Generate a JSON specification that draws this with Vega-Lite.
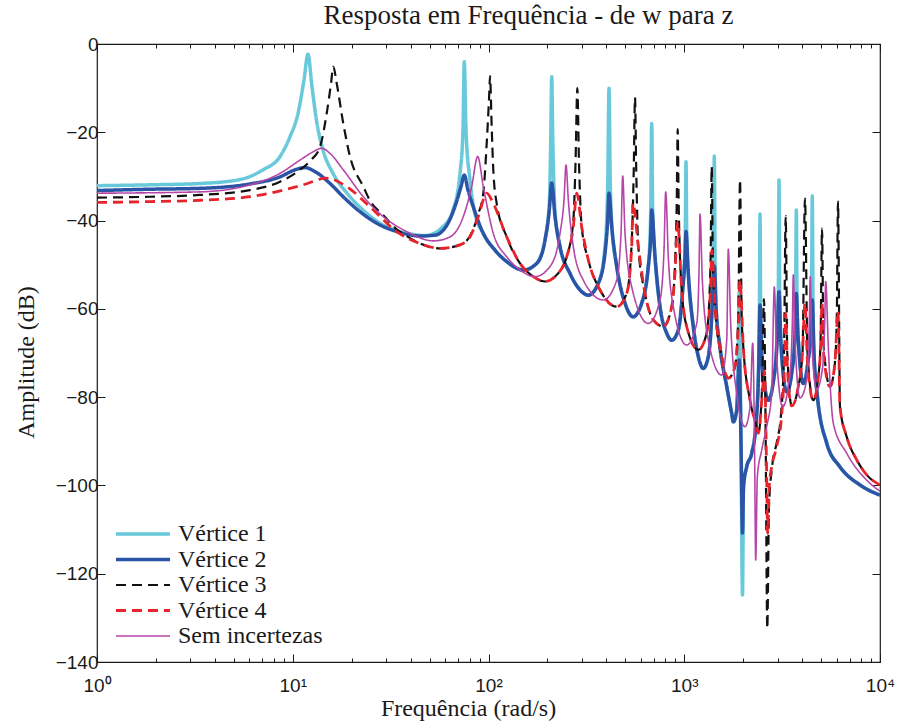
{
"$schema": "https://vega.github.io/schema/vega-lite/v6.json",
"width": 783, "height": 618,
"autosize": {"type": "none"},
"padding": {"left": 97, "top": 44, "right": 21, "bottom": 61},
"background": "white",
"title": {"text": "Resposta em Frequência - de w para z", "font": "Liberation Serif", "fontSize": 27, "fontWeight": "normal", "color": "#1a1a1a", "anchor": "middle", "dx": 40, "offset": -16, "baseline": "alphabetic"},
"config": {"view": {"stroke": "#1a1a1a", "strokeWidth": 1.2}, "axis": {"grid": false, "domain": false, "tickColor": "#1a1a1a", "labelColor": "#1a1a1a", "titleColor": "#1a1a1a"}},
"data": {"values": [
{"serie":"Vértice 1","f":1,"db":-32.1},{"serie":"Vértice 1","f":1.866,"db":-31.9},{"serie":"Vértice 1","f":3.359,"db":-31.6},{"serie":"Vértice 1","f":5.377,"db":-30.7},{"serie":"Vértice 1","f":7.047,"db":-28.5},{"serie":"Vértice 1","f":8.608,"db":-25.5},{"serie":"Vértice 1","f":9.682,"db":-21.0},{"serie":"Vértice 1","f":10.64,"db":-15.7},{"serie":"Vértice 1","f":11.41,"db":-8.2},{"serie":"Vértice 1","f":11.96,"db":-2.3},{"serie":"Vértice 1","f":12.54,"db":-9.7},{"serie":"Vértice 1","f":13.30,"db":-18.0},{"serie":"Vértice 1","f":14.27,"db":-24.0},{"serie":"Vértice 1","f":16.06,"db":-29.3},{"serie":"Vértice 1","f":18.93,"db":-33.8},{"serie":"Vértice 1","f":22.85,"db":-37.6},{"serie":"Vértice 1","f":28.91,"db":-41.0},{"serie":"Vértice 1","f":39.72,"db":-43.0},{"serie":"Vértice 1","f":47.37,"db":-43.4},{"serie":"Vértice 1","f":58.55,"db":-41.4},{"serie":"Vértice 1","f":65.86,"db":-37.6},{"serie":"Vértice 1","f":71.51,"db":-29.3},{"serie":"Vértice 1","f":74.08,"db":-19.5},{"serie":"Vértice 1","f":75.22,"db":-4.0},{"serie":"Vértice 1","f":76.74,"db":-19.5},{"serie":"Vértice 1","f":80.42,"db":-30.8},{"serie":"Vértice 1","f":85.31,"db":-38.5},{"serie":"Vértice 1","f":94.06,"db":-42.9},{"serie":"Vértice 1","f":107.9,"db":-46.7},{"serie":"Vértice 1","f":123.9,"db":-49.3},{"serie":"Vértice 1","f":150.6,"db":-51.2},{"serie":"Vértice 1","f":176.3,"db":-49.7},{"serie":"Vértice 1","f":194.4,"db":-44.4},{"serie":"Vértice 1","f":204.5,"db":-36},{"serie":"Vértice 1","f":207.9,"db":-22},{"serie":"Vértice 1","f":210.3,"db":-7.4},{"serie":"Vértice 1","f":213.1,"db":-22},{"serie":"Vértice 1","f":218.7,"db":-38},{"serie":"Vértice 1","f":231.9,"db":-45.9},{"serie":"Vértice 1","f":260.9,"db":-52.0},{"serie":"Vértice 1","f":293.4,"db":-55.7},{"serie":"Vértice 1","f":323.4,"db":-56.9},{"serie":"Vértice 1","f":363.9,"db":-54.2},{"serie":"Vértice 1","f":393.7,"db":-46},{"serie":"Vértice 1","f":406.4,"db":-32},{"serie":"Vértice 1","f":412.7,"db":-10.0},{"serie":"Vértice 1","f":419.0,"db":-32},{"serie":"Vértice 1","f":427.5,"db":-41.4},{"serie":"Vértice 1","f":451.8,"db":-50.4},{"serie":"Vértice 1","f":498.2,"db":-58.7},{"serie":"Vértice 1","f":547.2,"db":-61.8},{"serie":"Vértice 1","f":606.3,"db":-58.7},{"serie":"Vértice 1","f":655.2,"db":-50.4},{"serie":"Vértice 1","f":673.9,"db":-38},{"serie":"Vértice 1","f":681.9,"db":-18.0},{"serie":"Vértice 1","f":690.0,"db":-38},{"serie":"Vértice 1","f":709.0,"db":-48.2},{"serie":"Vértice 1","f":751.9,"db":-59.5},{"serie":"Vértice 1","f":813.5,"db":-65.5},{"serie":"Vértice 1","f":862.8,"db":-67.1},{"serie":"Vértice 1","f":932.4,"db":-64.8},{"serie":"Vértice 1","f":981.9,"db":-55.7},{"serie":"Vértice 1","f":1011,"db":-44},{"serie":"Vértice 1","f":1021,"db":-26.7},{"serie":"Vértice 1","f":1030,"db":-44},{"serie":"Vértice 1","f":1049,"db":-52.0},{"serie":"Vértice 1","f":1112,"db":-64.0},{"serie":"Vértice 1","f":1180,"db":-70.8},{"serie":"Vértice 1","f":1251,"db":-73.5},{"serie":"Vértice 1","f":1327,"db":-70.8},{"serie":"Vértice 1","f":1381,"db":-61.8},{"serie":"Vértice 1","f":1411,"db":-48},{"serie":"Vértice 1","f":1424,"db":-25.4},{"serie":"Vértice 1","f":1437,"db":-48},{"serie":"Vértice 1","f":1453,"db":-59.5},{"serie":"Vértice 1","f":1522,"db":-68.6},{"serie":"Vértice 1","f":1648,"db":-77.6},{"serie":"Vértice 1","f":1748,"db":-83.7},{"serie":"Vértice 1","f":1781,"db":-85.6},{"serie":"Vértice 1","f":1853,"db":-82.9},{"serie":"Vértice 1","f":1888,"db":-70},{"serie":"Vértice 1","f":1910,"db":-56.1},{"serie":"Vértice 1","f":1949,"db":-90},{"serie":"Vértice 1","f":1984,"db":-124.8},{"serie":"Vértice 1","f":2008,"db":-100.3},{"serie":"Vértice 1","f":2084,"db":-95.8},{"serie":"Vértice 1","f":2211,"db":-92.7},{"serie":"Vértice 1","f":2326,"db":-86},{"serie":"Vértice 1","f":2416,"db":-65},{"serie":"Vértice 1","f":2438,"db":-38.5},{"serie":"Vértice 1","f":2461,"db":-65},{"serie":"Vértice 1","f":2496,"db":-72},{"serie":"Vértice 1","f":2585,"db":-78},{"serie":"Vértice 1","f":2687,"db":-80.7},{"serie":"Vértice 1","f":2840,"db":-77},{"serie":"Vértice 1","f":3019,"db":-60},{"serie":"Vértice 1","f":3048,"db":-30.8},{"serie":"Vértice 1","f":3077,"db":-60},{"serie":"Vértice 1","f":3120,"db":-68},{"serie":"Vértice 1","f":3337,"db":-78.8},{"serie":"Vértice 1","f":3553,"db":-74},{"serie":"Vértice 1","f":3702,"db":-60},{"serie":"Vértice 1","f":3737,"db":-37.6},{"serie":"Vértice 1","f":3772,"db":-60},{"serie":"Vértice 1","f":3812,"db":-66},{"serie":"Vértice 1","f":4056,"db":-76.9},{"serie":"Vértice 1","f":4286,"db":-72},{"serie":"Vértice 1","f":4466,"db":-60},{"serie":"Vértice 1","f":4508,"db":-34.4},{"serie":"Vértice 1","f":4551,"db":-60},{"serie":"Vértice 1","f":4599,"db":-70},{"serie":"Vértice 1","f":4767,"db":-79},{"serie":"Vértice 1","f":5342,"db":-90.4},{"serie":"Vértice 1","f":6246,"db":-95.8},{"serie":"Vértice 1","f":7905,"db":-99.9},{"serie":"Vértice 1","f":10000,"db":-102.2},
{"serie":"Vértice 2","f":1,"db":-33.2},{"serie":"Vértice 2","f":1.866,"db":-32.9},{"serie":"Vértice 2","f":3.359,"db":-32.7},{"serie":"Vértice 2","f":6.048,"db":-31.7},{"serie":"Vértice 2","f":8.608,"db":-30.1},{"serie":"Vértice 2","f":10.27,"db":-28.5},{"serie":"Vértice 2","f":11.55,"db":-28.0},{"serie":"Vértice 2","f":12.99,"db":-28.9},{"serie":"Vértice 2","f":15.50,"db":-31.6},{"serie":"Vértice 2","f":18.49,"db":-35.0},{"serie":"Vértice 2","f":22.06,"db":-38.0},{"serie":"Vértice 2","f":27.91,"db":-41.0},{"serie":"Vértice 2","f":35.32,"db":-42.7},{"serie":"Vértice 2","f":44.67,"db":-43.5},{"serie":"Vértice 2","f":53.29,"db":-43.3},{"serie":"Vértice 2","f":62.10,"db":-40.6},{"serie":"Vértice 2","f":68.23,"db":-36.1},{"serie":"Vértice 2","f":72.36,"db":-32.3},{"serie":"Vértice 2","f":75.22,"db":-29.7},{"serie":"Vértice 2","f":78.55,"db":-33.1},{"serie":"Vértice 2","f":83.60,"db":-36.9},{"serie":"Vértice 2","f":94.06,"db":-42.9},{"serie":"Vértice 2","f":107.9,"db":-46.7},{"serie":"Vértice 2","f":123.9,"db":-49.3},{"serie":"Vértice 2","f":150.6,"db":-51.2},{"serie":"Vértice 2","f":176.3,"db":-49.7},{"serie":"Vértice 2","f":194.4,"db":-44.4},{"serie":"Vértice 2","f":204.5,"db":-37.6},{"serie":"Vértice 2","f":210.3,"db":-31.5},{"serie":"Vértice 2","f":218.7,"db":-39.1},{"serie":"Vértice 2","f":231.9,"db":-45.9},{"serie":"Vértice 2","f":260.9,"db":-52.0},{"serie":"Vértice 2","f":293.4,"db":-55.7},{"serie":"Vértice 2","f":323.4,"db":-56.9},{"serie":"Vértice 2","f":363.9,"db":-54.2},{"serie":"Vértice 2","f":393.7,"db":-47.4},{"serie":"Vértice 2","f":406.4,"db":-39.9},{"serie":"Vértice 2","f":412.7,"db":-33.8},{"serie":"Vértice 2","f":426.0,"db":-41.4},{"serie":"Vértice 2","f":451.8,"db":-50.4},{"serie":"Vértice 2","f":498.2,"db":-58.7},{"serie":"Vértice 2","f":547.2,"db":-61.8},{"serie":"Vértice 2","f":606.3,"db":-58.7},{"serie":"Vértice 2","f":655.2,"db":-50.4},{"serie":"Vértice 2","f":673.9,"db":-43.7},{"serie":"Vértice 2","f":681.9,"db":-37.6},{"serie":"Vértice 2","f":709.0,"db":-48.2},{"serie":"Vértice 2","f":751.9,"db":-59.5},{"serie":"Vértice 2","f":813.5,"db":-65.5},{"serie":"Vértice 2","f":862.8,"db":-67.1},{"serie":"Vértice 2","f":932.4,"db":-64.8},{"serie":"Vértice 2","f":981.9,"db":-55.7},{"serie":"Vértice 2","f":1009,"db":-48.2},{"serie":"Vértice 2","f":1021,"db":-42.5},{"serie":"Vértice 2","f":1049,"db":-52.0},{"serie":"Vértice 2","f":1112,"db":-64.0},{"serie":"Vértice 2","f":1180,"db":-70.8},{"serie":"Vértice 2","f":1251,"db":-73.5},{"serie":"Vértice 2","f":1327,"db":-70.8},{"serie":"Vértice 2","f":1381,"db":-61.8},{"serie":"Vértice 2","f":1408,"db":-53.5},{"serie":"Vértice 2","f":1424,"db":-50.3},{"serie":"Vértice 2","f":1453,"db":-59.5},{"serie":"Vértice 2","f":1522,"db":-68.6},{"serie":"Vértice 2","f":1648,"db":-77.6},{"serie":"Vértice 2","f":1748,"db":-83.7},{"serie":"Vértice 2","f":1781,"db":-85.6},{"serie":"Vértice 2","f":1853,"db":-82.9},{"serie":"Vértice 2","f":1888,"db":-75.4},{"serie":"Vértice 2","f":1910,"db":-71.6},{"serie":"Vértice 2","f":1949,"db":-90},{"serie":"Vértice 2","f":1984,"db":-110.8},{"serie":"Vértice 2","f":2008,"db":-100.3},{"serie":"Vértice 2","f":2084,"db":-95.8},{"serie":"Vértice 2","f":2211,"db":-92.7},{"serie":"Vértice 2","f":2326,"db":-86},{"serie":"Vértice 2","f":2396,"db":-75},{"serie":"Vértice 2","f":2438,"db":-59.1},{"serie":"Vértice 2","f":2496,"db":-72},{"serie":"Vértice 2","f":2585,"db":-78},{"serie":"Vértice 2","f":2687,"db":-80.7},{"serie":"Vértice 2","f":2840,"db":-77},{"serie":"Vértice 2","f":2977,"db":-68},{"serie":"Vértice 2","f":3048,"db":-56.1},{"serie":"Vértice 2","f":3120,"db":-68},{"serie":"Vértice 2","f":3337,"db":-78.8},{"serie":"Vértice 2","f":3553,"db":-74},{"serie":"Vértice 2","f":3680,"db":-66},{"serie":"Vértice 2","f":3737,"db":-56.5},{"serie":"Vértice 2","f":3812,"db":-66},{"serie":"Vértice 2","f":4056,"db":-76.9},{"serie":"Vértice 2","f":4286,"db":-72},{"serie":"Vértice 2","f":4440,"db":-65},{"serie":"Vértice 2","f":4508,"db":-58},{"serie":"Vértice 2","f":4599,"db":-70},{"serie":"Vértice 2","f":4767,"db":-79},{"serie":"Vértice 2","f":5342,"db":-90.4},{"serie":"Vértice 2","f":6246,"db":-95.8},{"serie":"Vértice 2","f":7905,"db":-99.9},{"serie":"Vértice 2","f":10000,"db":-102.2},
{"serie":"Vértice 3","f":1,"db":-34.8},{"serie":"Vértice 3","f":1.866,"db":-34.6},{"serie":"Vértice 3","f":3.359,"db":-34.2},{"serie":"Vértice 3","f":6.048,"db":-33.1},{"serie":"Vértice 3","f":8.608,"db":-31.2},{"serie":"Vértice 3","f":10.89,"db":-28.5},{"serie":"Vértice 3","f":12.25,"db":-26.5},{"serie":"Vértice 3","f":13.78,"db":-23.3},{"serie":"Vértice 3","f":14.91,"db":-15.7},{"serie":"Vértice 3","f":15.68,"db":-9.0},{"serie":"Vértice 3","f":16.11,"db":-5.1},{"serie":"Vértice 3","f":16.77,"db":-8.9},{"serie":"Vértice 3","f":18.12,"db":-18.0},{"serie":"Vértice 3","f":19.61,"db":-25.5},{"serie":"Vértice 3","f":22.93,"db":-32.3},{"serie":"Vértice 3","f":24.81,"db":-35.5},{"serie":"Vértice 3","f":29.01,"db":-38.8},{"serie":"Vértice 3","f":33.97,"db":-42.0},{"serie":"Vértice 3","f":36.71,"db":-43.0},{"serie":"Vértice 3","f":44.67,"db":-45.2},{"serie":"Vértice 3","f":56.52,"db":-46.3},{"serie":"Vértice 3","f":71.51,"db":-45.5},{"serie":"Vértice 3","f":80.42,"db":-43.5},{"serie":"Vértice 3","f":88.69,"db":-38.5},{"serie":"Vértice 3","f":94.06,"db":-33.8},{"serie":"Vértice 3","f":97.91,"db":-22.5},{"serie":"Vértice 3","f":100.9,"db":-11.2},{"serie":"Vértice 3","f":101.8,"db":-7.25},{"serie":"Vértice 3","f":103.8,"db":-18.7},{"serie":"Vértice 3","f":105.8,"db":-28.5},{"serie":"Vértice 3","f":110.1,"db":-36.1},{"serie":"Vértice 3","f":123.9,"db":-43.7},{"serie":"Vértice 3","f":144.9,"db":-49.7},{"serie":"Vértice 3","f":169.4,"db":-52.7},{"serie":"Vértice 3","f":194.4,"db":-53.8},{"serie":"Vértice 3","f":223.1,"db":-52.3},{"serie":"Vértice 3","f":250.9,"db":-48.2},{"serie":"Vértice 3","f":271.2,"db":-40},{"serie":"Vértice 3","f":278.3,"db":-27},{"serie":"Vértice 3","f":284.3,"db":-10.0},{"serie":"Vértice 3","f":290.0,"db":-27},{"serie":"Vértice 3","f":299.3,"db":-41.4},{"serie":"Vértice 3","f":323.4,"db":-48.9},{"serie":"Vértice 3","f":371.2,"db":-55.7},{"serie":"Vértice 3","f":451.8,"db":-59.5},{"serie":"Vértice 3","f":508.2,"db":-56.5},{"serie":"Vértice 3","f":538.9,"db":-45},{"serie":"Vértice 3","f":552.4,"db":-28},{"serie":"Vértice 3","f":560.3,"db":-12.1},{"serie":"Vértice 3","f":568.2,"db":-28},{"serie":"Vértice 3","f":582.5,"db":-45.9},{"serie":"Vértice 3","f":630.3,"db":-56.5},{"serie":"Vértice 3","f":694.9,"db":-62.5},{"serie":"Vértice 3","f":781.6,"db":-64.0},{"serie":"Vértice 3","f":862.8,"db":-59.5},{"serie":"Vértice 3","f":896.9,"db":-50},{"serie":"Vértice 3","f":916.1,"db":-35},{"serie":"Vértice 3","f":925.8,"db":-19.3},{"serie":"Vértice 3","f":935.7,"db":-35},{"serie":"Vértice 3","f":970.4,"db":-55.7},{"serie":"Vértice 3","f":1029,"db":-64.0},{"serie":"Vértice 3","f":1180,"db":-69.3},{"serie":"Vértice 3","f":1302,"db":-65.5},{"serie":"Vértice 3","f":1362,"db":-50},{"serie":"Vértice 3","f":1381,"db":-27.8},{"serie":"Vértice 3","f":1401,"db":-50},{"serie":"Vértice 3","f":1436,"db":-59.5},{"serie":"Vértice 3","f":1553,"db":-70.8},{"serie":"Vértice 3","f":1679,"db":-75.7},{"serie":"Vértice 3","f":1816,"db":-73.1},{"serie":"Vértice 3","f":1888,"db":-62},{"serie":"Vértice 3","f":1927,"db":-30.8},{"serie":"Vértice 3","f":1966,"db":-62},{"serie":"Vértice 3","f":2003,"db":-68.6},{"serie":"Vértice 3","f":2168,"db":-80.7},{"serie":"Vértice 3","f":2345,"db":-86.7},{"serie":"Vértice 3","f":2390,"db":-88.2},{"serie":"Vértice 3","f":2496,"db":-78},{"serie":"Vértice 3","f":2555,"db":-57.8},{"serie":"Vértice 3","f":2601,"db":-85},{"serie":"Vértice 3","f":2656,"db":-132.4},{"serie":"Vértice 3","f":2709,"db":-105},{"serie":"Vértice 3","f":2807,"db":-96},{"serie":"Vértice 3","f":2977,"db":-90},{"serie":"Vértice 3","f":3120,"db":-84},{"serie":"Vértice 3","f":3232,"db":-70},{"serie":"Vértice 3","f":3298,"db":-39.0},{"serie":"Vértice 3","f":3360,"db":-70},{"serie":"Vértice 3","f":3540,"db":-82},{"serie":"Vértice 3","f":3812,"db":-78},{"serie":"Vértice 3","f":4018,"db":-70},{"serie":"Vértice 3","f":4138,"db":-35.0},{"serie":"Vértice 3","f":4261,"db":-70},{"serie":"Vértice 3","f":4562,"db":-80.7},{"serie":"Vértice 3","f":4823,"db":-76},{"serie":"Vértice 3","f":4967,"db":-68},{"serie":"Vértice 3","f":5055,"db":-41.8},{"serie":"Vértice 3","f":5145,"db":-68},{"serie":"Vértice 3","f":5553,"db":-77.6},{"serie":"Vértice 3","f":5890,"db":-72},{"serie":"Vértice 3","f":6016,"db":-62},{"serie":"Vértice 3","f":6101,"db":-35.7},{"serie":"Vértice 3","f":6246,"db":-82.2},{"serie":"Vértice 3","f":6760,"db":-89},{"serie":"Vértice 3","f":7603,"db":-94.2},{"serie":"Vértice 3","f":8553,"db":-97.6},{"serie":"Vértice 3","f":10000,"db":-99.9},
{"serie":"Vértice 4","f":1,"db":-35.9},{"serie":"Vértice 4","f":1.866,"db":-35.7},{"serie":"Vértice 4","f":3.359,"db":-35.4},{"serie":"Vértice 4","f":6.048,"db":-34.6},{"serie":"Vértice 4","f":7.652,"db":-33.8},{"serie":"Vértice 4","f":11.32,"db":-31.9},{"serie":"Vértice 4","f":14.91,"db":-30.4},{"serie":"Vértice 4","f":18.86,"db":-32.3},{"serie":"Vértice 4","f":24.81,"db":-36.9},{"serie":"Vértice 4","f":33.97,"db":-42.5},{"serie":"Vértice 4","f":44.67,"db":-45.2},{"serie":"Vértice 4","f":56.52,"db":-46.3},{"serie":"Vértice 4","f":71.51,"db":-45.5},{"serie":"Vértice 4","f":80.42,"db":-43.7},{"serie":"Vértice 4","f":88.69,"db":-39.1},{"serie":"Vértice 4","f":97.91,"db":-33.8},{"serie":"Vértice 4","f":105.8,"db":-36.1},{"serie":"Vértice 4","f":123.9,"db":-43.7},{"serie":"Vértice 4","f":144.9,"db":-49.7},{"serie":"Vértice 4","f":169.4,"db":-52.7},{"serie":"Vértice 4","f":194.4,"db":-53.8},{"serie":"Vértice 4","f":223.1,"db":-52.3},{"serie":"Vértice 4","f":250.9,"db":-48.2},{"serie":"Vértice 4","f":271.2,"db":-41.4},{"serie":"Vértice 4","f":282.3,"db":-33.8},{"serie":"Vértice 4","f":299.3,"db":-41.4},{"serie":"Vértice 4","f":323.4,"db":-48.9},{"serie":"Vértice 4","f":371.2,"db":-55.7},{"serie":"Vértice 4","f":451.8,"db":-59.5},{"serie":"Vértice 4","f":508.2,"db":-56.5},{"serie":"Vértice 4","f":538.9,"db":-45.9},{"serie":"Vértice 4","f":547.2,"db":-36.0},{"serie":"Vértice 4","f":582.5,"db":-45.9},{"serie":"Vértice 4","f":630.3,"db":-56.5},{"serie":"Vértice 4","f":694.9,"db":-62.5},{"serie":"Vértice 4","f":781.6,"db":-64.0},{"serie":"Vértice 4","f":862.8,"db":-59.5},{"serie":"Vértice 4","f":896.9,"db":-51.9},{"serie":"Vértice 4","f":925.8,"db":-40.3},{"serie":"Vértice 4","f":970.4,"db":-55.7},{"serie":"Vértice 4","f":1029,"db":-64.0},{"serie":"Vértice 4","f":1180,"db":-69.3},{"serie":"Vértice 4","f":1302,"db":-65.5},{"serie":"Vértice 4","f":1365,"db":-54.2},{"serie":"Vértice 4","f":1381,"db":-46.7},{"serie":"Vértice 4","f":1436,"db":-59.5},{"serie":"Vértice 4","f":1553,"db":-70.8},{"serie":"Vértice 4","f":1679,"db":-75.7},{"serie":"Vértice 4","f":1816,"db":-73.1},{"serie":"Vértice 4","f":1888,"db":-64.0},{"serie":"Vértice 4","f":1927,"db":-53.5},{"serie":"Vértice 4","f":2003,"db":-68.6},{"serie":"Vértice 4","f":2168,"db":-80.7},{"serie":"Vértice 4","f":2345,"db":-86.7},{"serie":"Vértice 4","f":2390,"db":-88.2},{"serie":"Vértice 4","f":2496,"db":-80},{"serie":"Vértice 4","f":2570,"db":-74},{"serie":"Vértice 4","f":2631,"db":-95},{"serie":"Vértice 4","f":2668,"db":-110.8},{"serie":"Vértice 4","f":2719,"db":-100},{"serie":"Vértice 4","f":2797,"db":-95.8},{"serie":"Vértice 4","f":2966,"db":-91.2},{"serie":"Vértice 4","f":3146,"db":-84},{"serie":"Vértice 4","f":3251,"db":-72},{"serie":"Vértice 4","f":3298,"db":-61},{"serie":"Vértice 4","f":3368,"db":-74},{"serie":"Vértice 4","f":3540,"db":-82},{"serie":"Vértice 4","f":3812,"db":-78},{"serie":"Vértice 4","f":4018,"db":-70},{"serie":"Vértice 4","f":4138,"db":-58.7},{"serie":"Vértice 4","f":4261,"db":-72},{"serie":"Vértice 4","f":4562,"db":-80.7},{"serie":"Vértice 4","f":4823,"db":-76},{"serie":"Vértice 4","f":4967,"db":-69},{"serie":"Vértice 4","f":5055,"db":-58.7},{"serie":"Vértice 4","f":5145,"db":-70},{"serie":"Vértice 4","f":5553,"db":-77.6},{"serie":"Vértice 4","f":5890,"db":-72},{"serie":"Vértice 4","f":6101,"db":-60.6},{"serie":"Vértice 4","f":6246,"db":-82.2},{"serie":"Vértice 4","f":6760,"db":-89},{"serie":"Vértice 4","f":7603,"db":-94.2},{"serie":"Vértice 4","f":8553,"db":-97.6},{"serie":"Vértice 4","f":10000,"db":-99.9},
{"serie":"Sem incertezas","f":1,"db":-33.8},{"serie":"Sem incertezas","f":3.359,"db":-33.5},{"serie":"Sem incertezas","f":6.048,"db":-31.9},{"serie":"Sem incertezas","f":8.608,"db":-29.3},{"serie":"Sem incertezas","f":10.89,"db":-26.3},{"serie":"Sem incertezas","f":12.74,"db":-24.4},{"serie":"Sem incertezas","f":14.06,"db":-23.6},{"serie":"Sem incertezas","f":15.50,"db":-24.8},{"serie":"Sem incertezas","f":18.12,"db":-28.5},{"serie":"Sem incertezas","f":22.93,"db":-34.6},{"serie":"Sem incertezas","f":29.01,"db":-39.1},{"serie":"Sem incertezas","f":38.21,"db":-42.5},{"serie":"Sem incertezas","f":52.24,"db":-44.6},{"serie":"Sem incertezas","f":63.58,"db":-43.7},{"serie":"Sem incertezas","f":74.34,"db":-39.1},{"serie":"Sem incertezas","f":82.04,"db":-32.3},{"serie":"Sem incertezas","f":88.07,"db":-25.5},{"serie":"Sem incertezas","f":94.06,"db":-32.3},{"serie":"Sem incertezas","f":105.8,"db":-42.9},{"serie":"Sem incertezas","f":123.9,"db":-48.2},{"serie":"Sem incertezas","f":144.9,"db":-51.2},{"serie":"Sem incertezas","f":172.8,"db":-52.7},{"serie":"Sem incertezas","f":206.2,"db":-50.4},{"serie":"Sem incertezas","f":231.9,"db":-42.9},{"serie":"Sem incertezas","f":243.1,"db":-35.3},{"serie":"Sem incertezas","f":248.9,"db":-27.4},{"serie":"Sem incertezas","f":255.7,"db":-35.3},{"serie":"Sem incertezas","f":271.2,"db":-45.9},{"serie":"Sem incertezas","f":305.0,"db":-53.5},{"serie":"Sem incertezas","f":385.9,"db":-58.0},{"serie":"Sem incertezas","f":451.8,"db":-53.5},{"serie":"Sem incertezas","f":475.3,"db":-42.9},{"serie":"Sem incertezas","f":484.9,"db":-29.9},{"serie":"Sem incertezas","f":498.2,"db":-42.9},{"serie":"Sem incertezas","f":538.9,"db":-55.0},{"serie":"Sem incertezas","f":655.2,"db":-63.3},{"serie":"Sem incertezas","f":751.9,"db":-58.0},{"serie":"Sem incertezas","f":788.1,"db":-46.7},{"serie":"Sem incertezas","f":804.0,"db":-33.5},{"serie":"Sem incertezas","f":829.0,"db":-48.2},{"serie":"Sem incertezas","f":879.2,"db":-59.5},{"serie":"Sem incertezas","f":1029,"db":-68.2},{"serie":"Sem incertezas","f":1158,"db":-63.3},{"serie":"Sem incertezas","f":1189,"db":-52},{"serie":"Sem incertezas","f":1204,"db":-38.5},{"serie":"Sem incertezas","f":1237,"db":-53.5},{"serie":"Sem incertezas","f":1327,"db":-67.1},{"serie":"Sem incertezas","f":1553,"db":-75.0},{"serie":"Sem incertezas","f":1648,"db":-67.1},{"serie":"Sem incertezas","f":1679,"db":-46.5},{"serie":"Sem incertezas","f":1727,"db":-63.3},{"serie":"Sem incertezas","f":1853,"db":-79.1},{"serie":"Sem incertezas","f":2043,"db":-86.7},{"serie":"Sem incertezas","f":2168,"db":-82.2},{"serie":"Sem incertezas","f":2237,"db":-67.8},{"serie":"Sem incertezas","f":2285,"db":-90},{"serie":"Sem incertezas","f":2318,"db":-116.9},{"serie":"Sem incertezas","f":2362,"db":-98.0},{"serie":"Sem incertezas","f":2487,"db":-92},{"serie":"Sem incertezas","f":2637,"db":-86.7},{"serie":"Sem incertezas","f":2797,"db":-79.1},{"serie":"Sem incertezas","f":2884,"db":-55},{"serie":"Sem incertezas","f":2966,"db":-70.8},{"serie":"Sem incertezas","f":3183,"db":-82.2},{"serie":"Sem incertezas","f":3470,"db":-74.6},{"serie":"Sem incertezas","f":3565,"db":-63.3},{"serie":"Sem incertezas","f":3607,"db":-52.3},{"serie":"Sem incertezas","f":3680,"db":-67.1},{"serie":"Sem incertezas","f":3901,"db":-80.2},{"serie":"Sem incertezas","f":4221,"db":-76.1},{"serie":"Sem incertezas","f":4352,"db":-63.3},{"serie":"Sem incertezas","f":4403,"db":-52.7},{"serie":"Sem incertezas","f":4477,"db":-67.1},{"serie":"Sem incertezas","f":4750,"db":-78.2},{"serie":"Sem incertezas","f":5097,"db":-73.1},{"serie":"Sem incertezas","f":5218,"db":-63.3},{"serie":"Sem incertezas","f":5280,"db":-53.8},{"serie":"Sem incertezas","f":5444,"db":-68.6},{"serie":"Sem incertezas","f":5773,"db":-85.9},{"serie":"Sem incertezas","f":6760,"db":-92.7},{"serie":"Sem incertezas","f":8553,"db":-98.8},{"serie":"Sem incertezas","f":10000,"db":-101.3}
]},
"layer": [
{"mark": {"type": "line", "clip": true, "strokeJoin": "round", "interpolate": "monotone"},
 "encoding": {
  "x": {"field": "f", "type": "quantitative", "scale": {"type": "log", "domain": [1, 10000], "nice": false},
   "axis": {"orient": "bottom", "values": [1,2,3,4,5,6,7,8,9,10,20,30,40,50,60,70,80,90,100,200,300,400,500,600,700,800,900,1000,2000,3000,4000,5000,6000,7000,8000,9000,10000],
    "labelExpr": "datum.value == 1 ? '10⁰' : datum.value == 10 ? '10¹' : datum.value == 100 ? '10²' : datum.value == 1000 ? '10³' : datum.value == 10000 ? '10⁴' : ''",
    "labelFont": "Liberation Sans", "labelFontSize": 19, "labelPadding": 22, "labelFlush": false, "labelOverlap": false,
    "tickSize": {"condition": {"test": "indexof([1,10,100,1000,10000], datum.value) >= 0", "value": -8}, "value": -4},
    "title": "Frequência (rad/s)", "titleFont": "Liberation Serif", "titleFontSize": 24, "titleFontWeight": "normal", "titleX": 371, "titleY": 53, "titleBaseline": "alphabetic", "titleAlign": "center"}},
  "y": {"field": "db", "type": "quantitative", "scale": {"domain": [-140, 0], "nice": false},
   "axis": {"orient": "left", "values": [-140,-120,-100,-80,-60,-40,-20,0], "labelFont": "Liberation Sans", "labelFontSize": 19, "labelPadding": 7, "tickSize": -8,
    "title": "Amplitude (dB)", "titleFont": "Liberation Serif", "titleFontSize": 24, "titleFontWeight": "normal", "titleAngle": 270, "titleX": -64, "titleY": 318, "titleBaseline": "alphabetic", "titleAlign": "center"}},
  "color": {"field": "serie", "type": "nominal",
   "scale": {"domain": ["Vértice 1","Vértice 2","Vértice 3","Vértice 4","Sem incertezas"], "range": ["#68C9DA","#2C54A6","#111111","#E8232A","#B546A8"]},
   "legend": {"orient": "none", "legendX": 7, "legendY": 478, "title": null, "symbolType": "M0,0H10.8", "symbolSize": 100, "labelFont": "Liberation Serif", "labelFontSize": 24, "labelColor": "#1a1a1a", "labelOffset": 50, "rowPadding": 1.5, "labelLimit": 400}},
  "strokeDash": {"field": "serie", "type": "nominal",
   "scale": {"domain": ["Vértice 1","Vértice 2","Vértice 3","Vértice 4","Sem incertezas"], "range": [[1,0],[1,0],[10,6],[10,6],[1,0]]}},
  "strokeWidth": {"field": "serie", "type": "nominal",
   "scale": {"type": "ordinal", "domain": ["Vértice 1","Vértice 2","Vértice 3","Vértice 4","Sem incertezas"], "range": [3.5,3.5,2.2,2.8,1.6]}}
 }},
{"transform": [{"filter": "false"}],
 "mark": {"type": "line"},
 "encoding": {
  "x": {"field": "f", "type": "quantitative",
   "axis": {"orient": "top", "values": [1,2,3,4,5,6,7,8,9,10,20,30,40,50,60,70,80,90,100,200,300,400,500,600,700,800,900,1000,2000,3000,4000,5000,6000,7000,8000,9000,10000], "labels": false, "title": null,
    "tickSize": {"condition": {"test": "indexof([1,10,100,1000,10000], datum.value) >= 0", "value": -8}, "value": -4}}},
  "y": {"field": "db", "type": "quantitative",
   "axis": {"orient": "right", "values": [-140,-120,-100,-80,-60,-40,-20,0], "labels": false, "title": null, "tickSize": -8}}
 }}
],
"resolve": {"axis": {"x": "independent", "y": "independent"}}
}
